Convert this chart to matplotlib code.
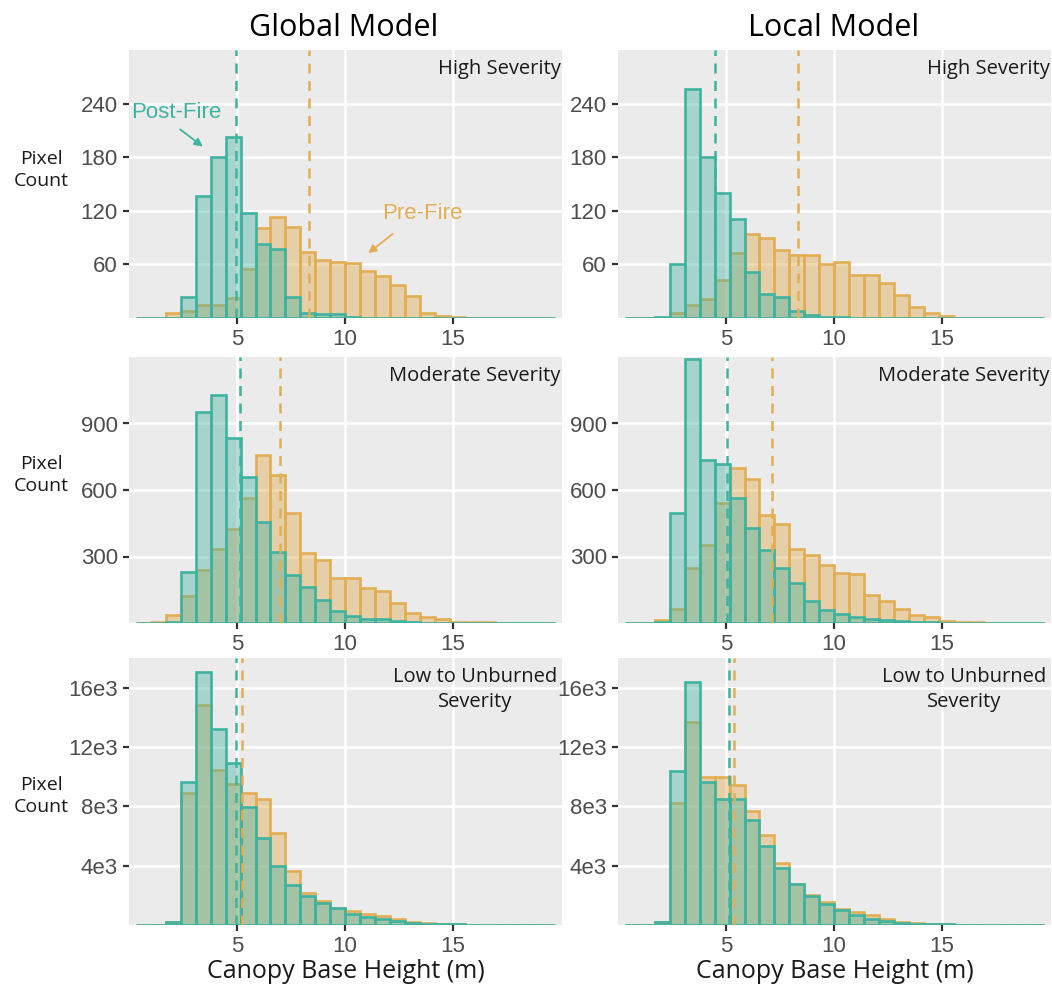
import numpy as np
import matplotlib.pyplot as plt
from matplotlib.colors import to_rgba

plt.rcParams['font.family'] = ['Liberation Sans', 'DejaVu Sans']

# bins used for every histogram
bin_lo = 0.31
bin_w = 0.6935
n_bins = 28

# counts per bin, pre-fire and post-fire
global_high_pre = [0, 0, 6, 8, 14, 15, 22, 55, 101, 113, 102, 74, 65, 63, 62, 53, 47, 37, 25, 6, 2, 1.5, 0, 0, 0, 0, 0, 0]
global_high_post = [0, 0, 0, 23, 137, 180, 203, 118, 83, 77, 24, 6, 4, 4, 1.5, 0, 0, 0, 0, 0, 0, 0, 0, 0, 0, 0, 0, 0]
local_high_pre = [0, 0, 0, 6, 14, 21, 43, 73, 94, 90, 76, 70, 70, 60, 63, 48, 48, 39, 26, 12, 6, 2, 0, 0, 0, 0, 0, 0]
local_high_post = [0, 0, 1.5, 60, 256, 180, 140, 111, 51, 27, 23, 8, 3, 1, 0.7, 0, 0, 0, 0, 0, 0, 0, 0, 0, 0, 0, 0, 0]

global_mod_pre = [0, 4, 36, 123, 238, 336, 423, 565, 759, 666, 498, 316, 283, 205, 201, 156, 145, 91, 46, 25, 16, 6, 4, 3, 0, 0, 0, 0]
global_mod_post = [0, 0, 3, 231, 954, 1030, 835, 657, 456, 321, 217, 163, 103, 54, 33, 18, 18, 9, 4, 2, 1, 0, 0, 0, 0, 0, 0, 0]
local_mod_pre = [0, 0, 13, 64, 248, 351, 543, 700, 651, 485, 445, 334, 307, 260, 225, 221, 128, 97, 64, 36, 27, 9, 6, 3, 0, 0, 0, 0]
local_mod_post = [0, 0, 3, 497, 1191, 737, 718, 564, 427, 330, 248, 179, 101, 60, 42, 27, 16, 12, 9, 6, 4, 2, 0, 0, 0, 0, 0, 0]

global_low_pre = [0, 0, 180, 8928, 14827, 10453, 9511, 8905, 8479, 6191, 3656, 2153, 1615, 1166, 920, 740, 583, 404, 180, 112, 67, 45, 25, 15, 0, 0, 0, 0]
global_low_post = [0, 0, 180, 9668, 17026, 13235, 10947, 7963, 5855, 3993, 2669, 1974, 1503, 1144, 763, 538, 404, 247, 157, 90, 67, 45, 25, 15, 10, 0, 0, 0]
local_low_pre = [0, 0, 180, 8193, 13678, 9984, 9984, 9470, 7701, 6067, 4164, 2753, 2037, 1522, 1075, 851, 672, 425, 224, 134, 90, 50, 25, 0, 0, 0, 0, 0]
local_low_post = [0, 0, 180, 10388, 16410, 9671, 8507, 8507, 7052, 5350, 3873, 2753, 1925, 1410, 1007, 672, 403, 246, 157, 90, 67, 40, 20, 0, 0, 0, 0, 0]

# mean lines (pre, post)
global_means = [(8.33, 4.97), (6.99, 5.13), (5.22, 4.97)]
local_means = [(8.32, 4.49), (7.11, 5.03), (5.38, 5.15)]

row_names = ["High Severity", "Moderate Severity", "Low to Unburned\nSeverity"]
y_max = [300, 1200, 18000]
y_ticks = [[60, 120, 180, 240], [300, 600, 900], [4000, 8000, 12000, 16000]]
y_ticklabels = [["60", "120", "180", "240"], ["300", "600", "900"], ["4e3", "8e3", "12e3", "16e3"]]
x_ticks = [5, 10, 15]

pre_col = "#E2AE55"
post_col = "#3FB3A0"
panel_bg = "#EBEBEB"

W, H = 1052, 999
fig = plt.figure(figsize=(W / 100, H / 100), dpi=100)

col_left = [129, 618]
col_width = 433
row_top = [50, 357, 658]
row_bot = [318, 623, 925]

data = [
    [(global_high_pre, global_high_post), (local_high_pre, local_high_post)],
    [(global_mod_pre, global_mod_post), (local_mod_pre, local_mod_post)],
    [(global_low_pre, global_low_post), (local_low_pre, local_low_post)],
]
means = [global_means, local_means]

edges = bin_lo + bin_w * np.arange(n_bins)

axes = {}
for r in range(3):
    for c in range(2):
        ax = fig.add_axes([col_left[c] / W, 1 - row_bot[r] / H,
                           col_width / W, (row_bot[r] - row_top[r]) / H])
        axes[(r, c)] = ax
        ax.set_facecolor(panel_bg)
        for s in ax.spines.values():
            s.set_visible(False)
        pre, post = data[r][c]
        ax.bar(edges, pre, width=bin_w, align="edge",
               facecolor=to_rgba(pre_col, 0.45), edgecolor=pre_col, linewidth=1.9, zorder=2)
        ax.bar(edges, post, width=bin_w, align="edge",
               facecolor=to_rgba(post_col, 0.4), edgecolor=post_col, linewidth=1.9, zorder=3)
        m_pre, m_post = means[c][r]
        ax.axvline(m_pre, color=pre_col, ls=(0, (4, 3)), lw=1.8, zorder=4)
        ax.axvline(m_post, color=post_col, ls=(0, (4, 3)), lw=1.8, zorder=4)

        ax.set_xlim(0, 20.05)
        ax.set_ylim(0, y_max[r])
        ax.set_xticks(x_ticks)
        ax.set_xticklabels([str(t) for t in x_ticks])
        ax.set_yticks(y_ticks[r])
        ax.set_yticklabels(y_ticklabels[r])
        ax.grid(True, color="white", lw=1.8, zorder=0)
        ax.set_axisbelow(True)
        ax.tick_params(length=4, width=1.6, color="#333333", labelcolor="#4D4D4D",
                       labelsize=16, pad=4)

        if r < 2:
            ax.text(0.997, 0.965, row_names[r], transform=ax.transAxes, ha="right", va="top",
                    fontsize=14.5, family="Open Sans", color="#1A1A1A", zorder=5)
        else:
            ax.text(0.99, 0.965, row_names[r], transform=ax.transAxes, ha="right", va="top",
                    fontsize=14.5, family="Open Sans", color="#1A1A1A", multialignment="center",
                    linespacing=1.3, zorder=5)

# labels for the two series in the first panel
ax = axes[(0, 0)]
ax.annotate("", xy=(3.52, 190), xytext=(2.27, 213),
            arrowprops=dict(arrowstyle="-|>", color=post_col, lw=1.3, mutation_scale=12), zorder=6)
ax.text(2.18, 230, "Post-Fire", color=post_col, fontsize=16,
        ha="center", va="center", zorder=6)
ax.annotate("", xy=(10.97, 70.6), xytext=(12.31, 96),
            arrowprops=dict(arrowstyle="-|>", color=pre_col, lw=1.3, mutation_scale=12), zorder=6)
ax.text(13.56, 116.6, "Pre-Fire", color=pre_col, fontsize=16,
        ha="center", va="center", zorder=6)

fig.text(344 / W, 1 - 28 / H, "Global Model", ha="center", va="center", fontsize=22, family="Open Sans")
fig.text(834 / W, 1 - 28 / H, "Local Model", ha="center", va="center", fontsize=22, family="Open Sans")
for cx in [345.5, 834.5]:
    fig.text(cx / W, 1 - 972 / H, "Canopy Base Height (m)", ha="center", va="center",
             fontsize=18, family="Open Sans", color="#1A1A1A")
for cy in [170, 475, 796]:
    fig.text(41 / W, 1 - cy / H, "Pixel\nCount", ha="center", va="center", fontsize=14,
             family="Open Sans", linespacing=1.35, color="#1A1A1A")

fig.savefig("out.png", dpi=100)
